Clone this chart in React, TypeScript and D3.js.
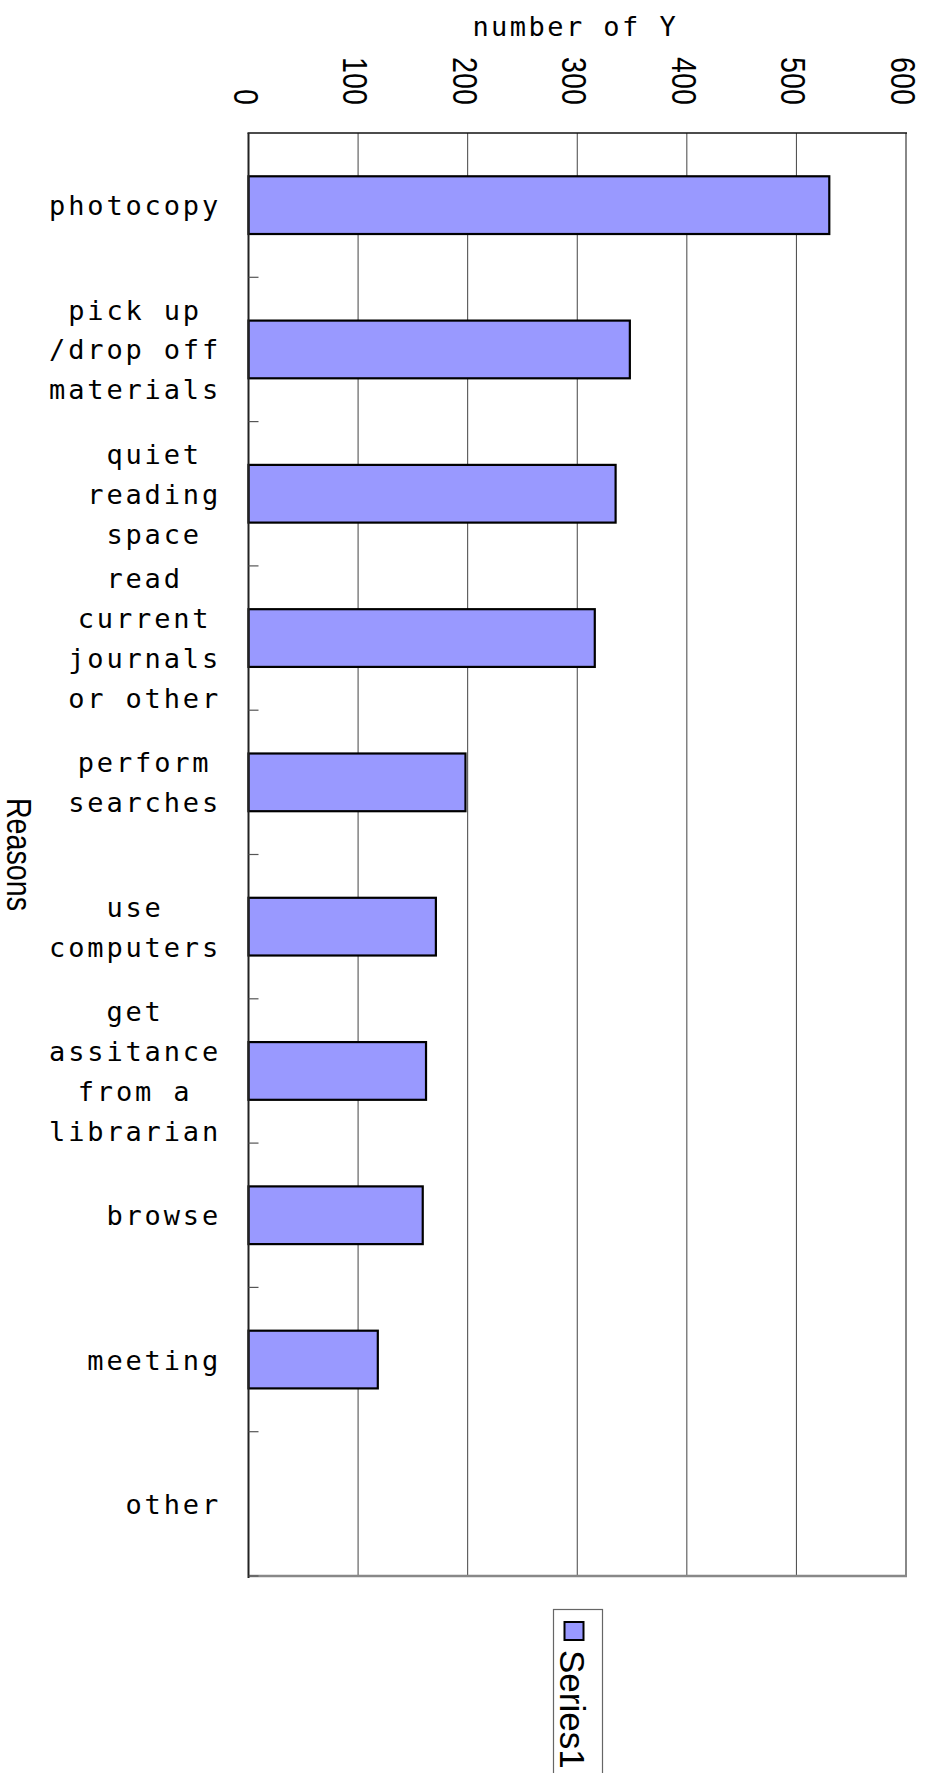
import React from "react";
import * as d3 from "d3";

const categories: string[][] = [
  ["photocopy"],
  ["pick up", "/drop off", "materials"],
  ["quiet", "reading", "space"],
  ["read", "current", "journals", "or other"],
  ["perform", "searches"],
  ["use", "computers"],
  ["get", "assitance", "from a", "librarian"],
  ["browse"],
  ["meeting"],
  ["other"],
];
const values: number[] = [530, 348, 335, 316, 198, 171, 162, 159, 118, 0];
const xTicks: number[] = [0, 100, 200, 300, 400, 500, 600];
const seriesName = "Series1";
const xTitle = "number of Y";
const yTitle = "Reasons";

const W = 925;
const H = 1773;
const left = 248.5;
const right = 906;
const top = 133;
const bottom = 1576;

const monoFont = "'DejaVu Sans Mono', 'Liberation Mono', monospace";
const sansFont = "'Liberation Sans', Arial, sans-serif";

export default function App() {
  const keys = categories.map((c) => c.join(" "));
  const x = d3.scaleLinear().domain([0, 600]).range([left, right]);
  const y = d3
    .scaleBand<string>()
    .domain(keys)
    .range([top, bottom])
    .paddingInner(0.6)
    .paddingOuter(0.3);
  const step = y.step();
  const bw = y.bandwidth();
  const fs = 27;
  const ls = 19.1 - fs * 0.602;
  const adv = 19.1;
  const labelRight = 221;

  const boundaries = keys.map((k) => (y(k) as number) + bw / 2 + step / 2);

  return (
    <svg
      width={W}
      height={H}
      style={{ position: "absolute", left: 0, top: 0, background: "#fff" }}
    >
      <rect x={0} y={0} width={W} height={H} fill="#fff" />
      {/* gridlines */}
      {xTicks.slice(1, -1).map((t) => (
        <line key={t} x1={x(t)} x2={x(t)} y1={top} y2={bottom} stroke="#444" strokeWidth={1} />
      ))}
      {/* frame */}
      <line x1={right} x2={right} y1={top} y2={bottom} stroke="#888" strokeWidth={2} />
      <line x1={left} x2={right + 1} y1={bottom} y2={bottom} stroke="#888" strokeWidth={2.5} />
      <line x1={left - 1} x2={right + 1} y1={top} y2={top} stroke="#111" strokeWidth={1.5} />
      {/* bars */}
      {keys.map((k, i) =>
        values[i] > 0 ? (
          <rect
            key={k}
            x={x(0)}
            y={y(k) as number}
            width={x(values[i]) - x(0)}
            height={bw}
            fill="#9999FF"
            stroke="#000"
            strokeWidth={2.2}
          />
        ) : null
      )}
      {/* left axis */}
      <line x1={left} x2={left} y1={top} y2={bottom + 2} stroke="#222" strokeWidth={2} />
      {boundaries.map((b, i) => (
        <line key={i} x1={left} x2={left + 10} y1={b} y2={b} stroke="#555" strokeWidth={1.2} />
      ))}
      {/* category labels */}
      {categories.map((lines, i) => {
        const cy = (y(keys[i]) as number) + bw / 2;
        const maxChars = d3.max(lines, (l) => l.length) as number;
        const cx = labelRight - (maxChars * adv) / 2;
        const lh = 39.8;
        const first = cy + 10 - ((lines.length - 1) * lh) / 2;
        return (
          <g key={keys[i]}>
            {lines.map((l, j) => (
              <text
                key={j}
                x={cx}
                y={first + j * lh}
                textAnchor="middle"
                fontFamily={monoFont}
                fontSize={fs}
                letterSpacing={ls}
                fill="#000"
              >
                {l}
              </text>
            ))}
          </g>
        );
      })}
      {/* x tick labels */}
      {xTicks.map((t) => (
        <text
          key={t}
          transform={`translate(${x(t) - 15},105) rotate(90) scale(0.82,1)`}
          textAnchor="end"
          fontFamily={sansFont}
          fontSize={35}
          fill="#000"
        >
          {t}
        </text>
      ))}
      {/* x title */}
      <text
        x={(left + right) / 2 - 2}
        y={36}
        textAnchor="middle"
        fontFamily={monoFont}
        fontSize={fs}
        letterSpacing={ls - 0.4}
        fill="#000"
      >
        {xTitle}
      </text>
      {/* y title */}
      <text
        transform={`translate(7,${(top + bottom) / 2}) rotate(90) scale(0.82,1)`}
        textAnchor="middle"
        fontFamily={sansFont}
        fontSize={35}
        fill="#000"
      >
        {yTitle}
      </text>
      {/* legend */}
      <rect x={553.5} y={1609.5} width={49} height={200} fill="#fff" stroke="#666" strokeWidth={1.2} />
      <rect x={564.5} y={1622} width={19} height={18} fill="#9999FF" stroke="#000" strokeWidth={2} />
      <text
        transform={`translate(560,1650) rotate(90)`}
        textAnchor="start"
        fontFamily={sansFont}
        fontSize={35}
        fill="#000"
      >
        {seriesName}
      </text>
    </svg>
  );
}
